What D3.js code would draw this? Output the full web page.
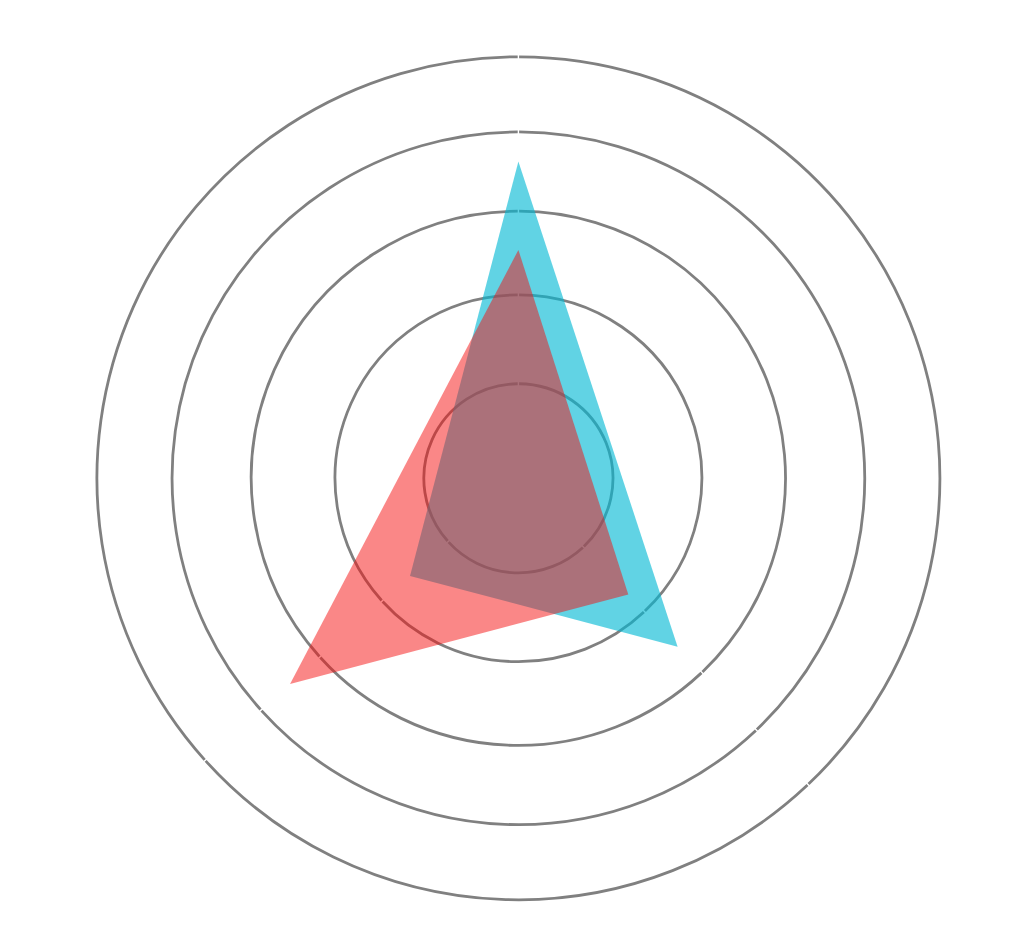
<!DOCTYPE html>
<html>
<head>
<meta charset="utf-8">
<script src="https://cdn.jsdelivr.net/npm/d3@7"></script>
<style>
  html, body { margin: 0; padding: 0; background: #fff; }
  svg { display: block; }
</style>
</head>
<body>
<svg id="chart" width="1018" height="951"></svg>
<script>
// ---- data ----
const categories = ["A", "B", "C"];
const axisAngleDeg = [0, 136.6, 228];          // angular position of each axis (clockwise from top)
const seriesNames = ["Series 1", "Series 2"];
const series1Values = [3.62, 2.57, 1.57];      // cyan
const series2Values = [2.53, 1.73, 3.5];       // red
const gridLevels = [1, 2, 3, 4, 5];

// ---- layout ----
const width = 1018, height = 951;
const cx = 518.4, cy = 478.3;
const outerR = 421.5;

const svg = d3.select("#chart");
svg.append("rect").attr("width", width).attr("height", height).attr("fill", "#fff");

const r = d3.scaleSymlog().constant(15).domain([0, 5]).range([0, outerR]);
const angle = d3.scaleOrdinal()
  .domain(categories)
  .range(axisAngleDeg.map(d => d * Math.PI / 180));

const g = svg.append("g").attr("transform", `translate(${cx},${cy})`);

// grid circles drawn as arcs between consecutive axes (small gaps at axes)
const gapPx = 0.7;
const sectors = categories.map((c, i) => {
  const a0 = angle(c);
  const a1 = i < categories.length - 1 ? angle(categories[i + 1]) : 2 * Math.PI;
  return [a0, a1];
});
gridLevels.forEach(level => {
  const rr = r(level);
  sectors.forEach(([a0, a1]) => {
    const p = d3.path();
    const s = a0 + gapPx / rr - Math.PI / 2;
    const e = a1 - gapPx / rr - Math.PI / 2;
    p.moveTo(rr * Math.cos(s), rr * Math.sin(s));
    p.arc(0, 0, rr, s, e, false);
    g.append("path")
      .attr("d", p.toString())
      .attr("fill", "none")
      .attr("stroke", "#808080")
      .attr("stroke-width", 2.8);
  });
});

// polygons
const line = d3.lineRadial()
  .angle((d, i) => angle(categories[i]))
  .radius(d => r(d))
  .curve(d3.curveLinearClosed);

const seriesData = [
  { name: seriesNames[0], values: series1Values, fill: "rgb(0,184,212)", opacity: 0.62 },
  { name: seriesNames[1], values: series2Values, fill: "rgb(245,15,15)", opacity: 0.5 }
];

g.selectAll("path.area")
  .data(seriesData)
  .join("path")
  .attr("class", "area")
  .attr("d", d => line(d.values))
  .attr("fill", d => d.fill)
  .attr("fill-opacity", d => d.opacity)
  .attr("stroke", "none");
</script>
</body>
</html>
